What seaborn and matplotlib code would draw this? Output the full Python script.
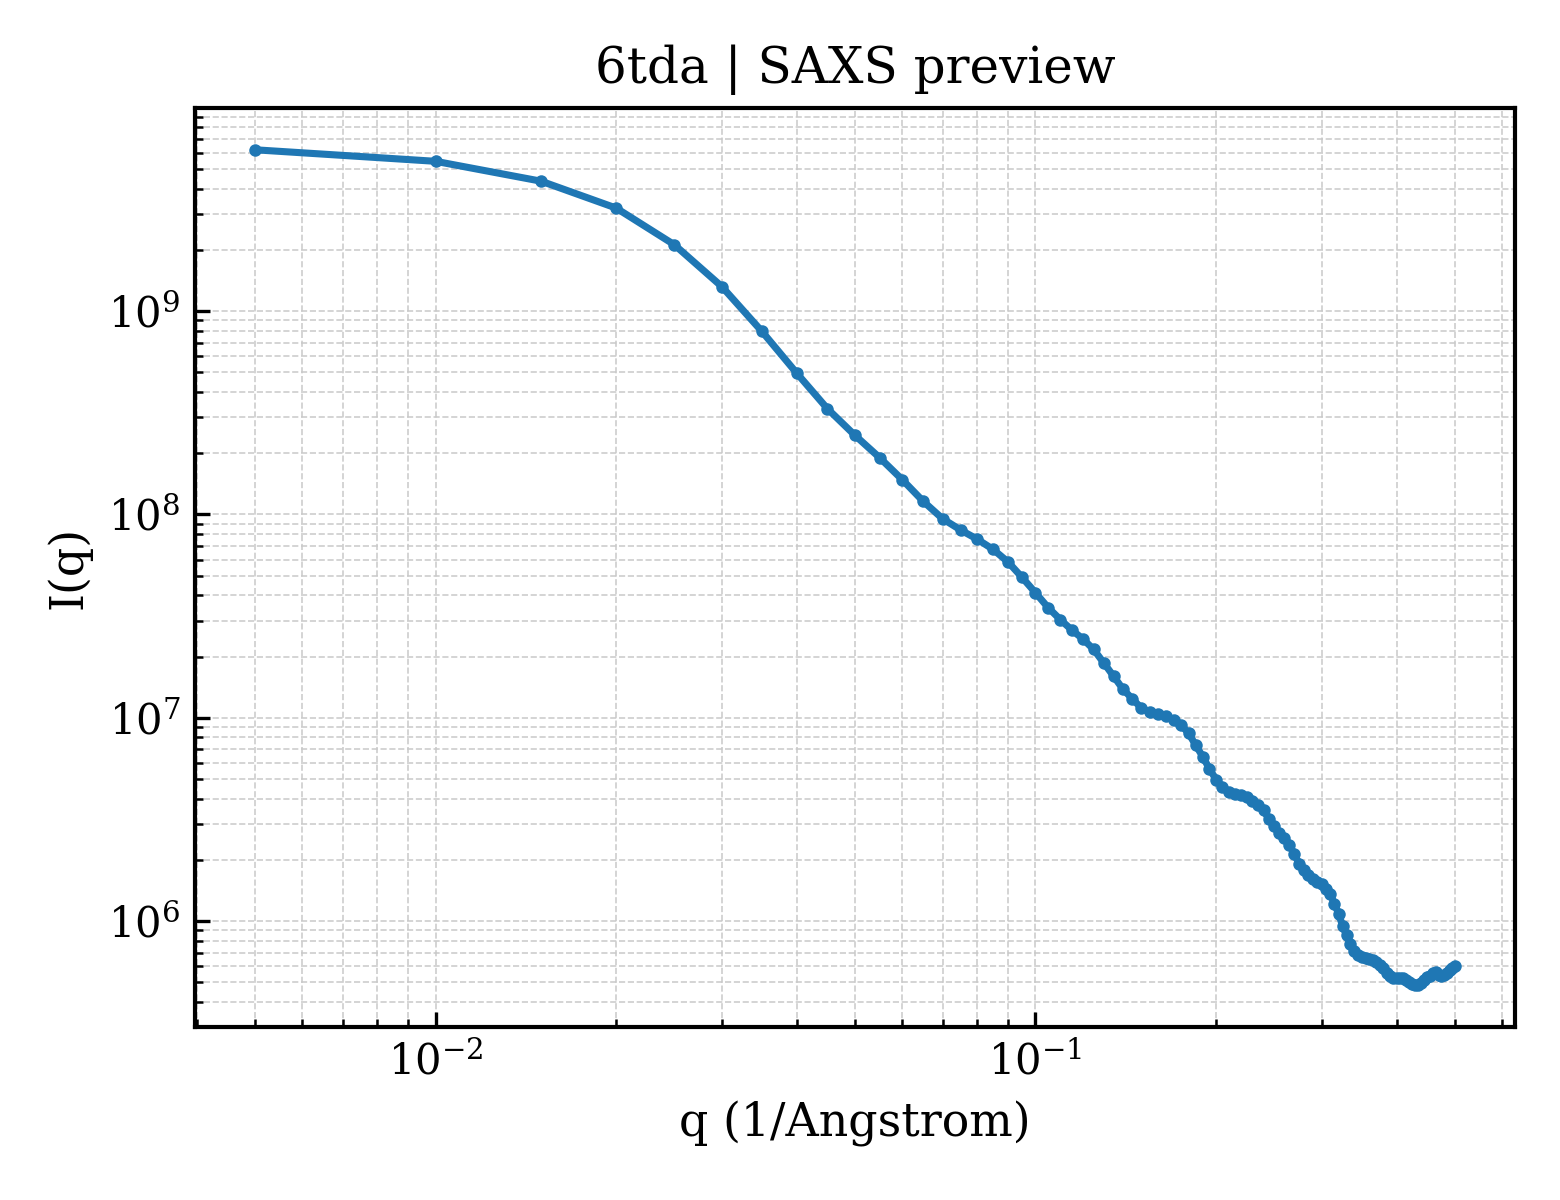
import numpy as np
import pandas as pd
import seaborn as sns
import matplotlib
matplotlib.use("Agg")
import matplotlib.pyplot as plt

# scattering vector (1/Angstrom)
q = [0.005, 0.010, 0.015, 0.020, 0.025, 0.030, 0.035, 0.040, 0.045, 0.050,
     0.055, 0.060, 0.065, 0.070, 0.075, 0.080, 0.085, 0.090, 0.095, 0.100,
     0.105, 0.110, 0.115, 0.120, 0.125, 0.130, 0.135, 0.140, 0.145, 0.150,
     0.155, 0.160, 0.165, 0.170, 0.175, 0.180, 0.185, 0.190, 0.195, 0.200,
     0.205, 0.210, 0.215, 0.220, 0.225, 0.230, 0.235, 0.240, 0.245, 0.250,
     0.255, 0.260, 0.265, 0.270, 0.275, 0.280, 0.285, 0.290, 0.295, 0.300,
     0.305, 0.310, 0.315, 0.320, 0.325, 0.330, 0.335, 0.340, 0.345, 0.350,
     0.355, 0.360, 0.365, 0.370, 0.375, 0.380, 0.385, 0.390, 0.395, 0.400,
     0.405, 0.410, 0.415, 0.420, 0.425, 0.430, 0.435, 0.440, 0.445, 0.450,
     0.455, 0.460, 0.465, 0.470, 0.475, 0.480, 0.485, 0.490, 0.495, 0.500]

# intensity
intensity = [6.21e9, 5.45e9, 4.35e9, 3.21e9, 2.12e9, 1.32e9, 7.94e8, 4.95e8, 3.31e8, 2.45e8,
             1.90e8, 1.48e8, 1.16e8, 9.53e7, 8.39e7, 7.55e7, 6.73e7, 5.84e7, 4.90e7, 4.12e7,
             3.48e7, 3.04e7, 2.70e7, 2.44e7, 2.17e7, 1.86e7, 1.60e7, 1.38e7, 1.24e7, 1.12e7,
             1.07e7, 1.04e7, 1.02e7, 9.70e6, 9.20e6, 8.39e6, 7.33e6, 6.45e6, 5.61e6, 4.97e6,
             4.56e6, 4.31e6, 4.21e6, 4.15e6, 4.06e6, 3.90e6, 3.74e6, 3.51e6, 3.17e6, 2.93e6,
             2.72e6, 2.57e6, 2.38e6, 2.14e6, 1.92e6, 1.78e6, 1.69e6, 1.62e6, 1.56e6, 1.52e6,
             1.44e6, 1.36e6, 1.22e6, 1.09e6, 9.50e5, 8.50e5, 7.70e5, 7.15e5, 6.83e5, 6.65e5,
             6.58e5, 6.50e5, 6.43e5, 6.33e5, 6.12e5, 5.86e5, 5.58e5, 5.40e5, 5.28e5, 5.24e5,
             5.25e5, 5.24e5, 5.12e5, 5.02e5, 4.91e5, 4.83e5, 4.88e5, 4.95e5, 5.11e5, 5.29e5,
             5.40e5, 5.56e5, 5.63e5, 5.44e5, 5.35e5, 5.44e5, 5.59e5, 5.72e5, 5.87e5, 6.05e5]

pdb_id = "6tda"

sns.set_theme(style="white")
plt.rcParams['font.family'] = ['DejaVu Serif']
plt.rcParams['mathtext.fontset'] = 'dejavuserif'
for key in ['text.color', 'axes.labelcolor', 'xtick.color', 'ytick.color', 'axes.edgecolor']:
    plt.rcParams[key] = 'black'

df = pd.DataFrame({"q": q, "I": intensity})

fig, ax = plt.subplots(figsize=(5.2, 4), dpi=300)
fig.subplots_adjust(left=0.125, right=0.971, bottom=0.144, top=0.91)

sns.lineplot(data=df, x="q", y="I", ax=ax, color="#1f77b4", linewidth=1.7,
             marker="o", markersize=3.0, markeredgewidth=0)
ax.set_xscale("log")
ax.set_yscale("log")

ax.grid(True, which="both", linestyle="--", linewidth=0.4, color="#c8c8c8", alpha=0.9)
ax.tick_params(which="both", direction="in", labelsize=10, left=True, bottom=True)
ax.tick_params(which="major", length=3.5, width=0.8)
ax.tick_params(which="minor", length=2, width=0.6)
for sp in ax.spines.values():
    sp.set_linewidth(1.0)

ax.set_xlabel("q (1/Angstrom)", fontsize=11)
ax.set_ylabel("I(q)", fontsize=11)
ax.set_title("{} | SAXS preview".format(pdb_id), fontsize=12)

fig.savefig("out.png", dpi=300)
